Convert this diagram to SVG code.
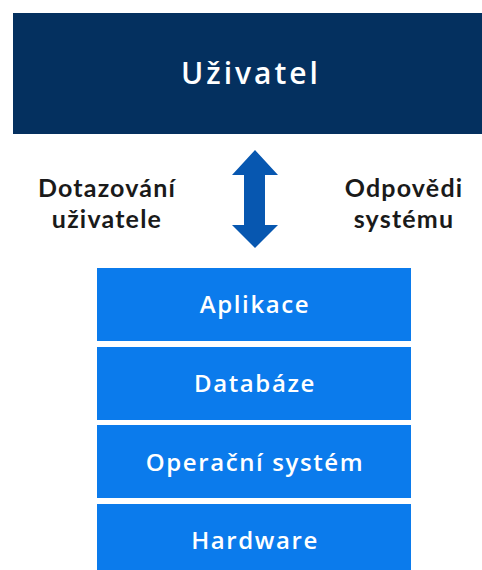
<svg xmlns="http://www.w3.org/2000/svg" width="482" height="570" viewBox="0 0 482 570">
  <style>
    .layer { fill: #0b7bec; }
    .layer-text { fill: #ffffff; font-family: "Open Sans", Lato, sans-serif; font-weight: 600; font-size: 24px; letter-spacing: 1.6px; text-anchor: middle; }
    .side { fill: #1a1a1a; font-family: Lato, "Open Sans", sans-serif; font-weight: bold; font-size: 25px; letter-spacing: 1.2px; text-anchor: middle; }
  </style>
  <rect width="482" height="570" fill="#ffffff"/>

  <g id="user">
    <rect x="13" y="13" width="475" height="121" fill="#04305f"/>
    <text x="251" y="84" fill="#ffffff" font-family="'Open Sans', Lato, sans-serif" font-weight="600" font-size="30" letter-spacing="3" text-anchor="middle">Uživatel</text>
  </g>

  <g id="connectors">
    <polygon points="255,150 278,175 265,175 265,225 278,225 255,248 232,225 244,225 244,175 232,175" fill="#0757b0"/>
  </g>

  <g id="label-queries">
    <text class="side" x="107" y="197">Dotazování</text>
    <text class="side" x="107" y="228">uživatele</text>
  </g>
  <g id="label-responses">
    <text class="side" x="404" y="197">Odpovědi</text>
    <text class="side" x="404" y="228">systému</text>
  </g>

  <g id="aplikace">
    <rect class="layer" x="97" y="268" width="314" height="73"/>
    <text class="layer-text" x="255" y="313">Aplikace</text>
  </g>
  <g id="databaze">
    <rect class="layer" x="97" y="347" width="314" height="73"/>
    <text class="layer-text" x="255" y="392">Databáze</text>
  </g>
  <g id="os">
    <rect class="layer" x="97" y="425" width="314" height="73"/>
    <text class="layer-text" x="255" y="471">Operační systém</text>
  </g>
  <g id="hardware">
    <rect class="layer" x="97" y="504" width="314" height="73"/>
    <text class="layer-text" x="255" y="549">Hardware</text>
  </g>
</svg>
